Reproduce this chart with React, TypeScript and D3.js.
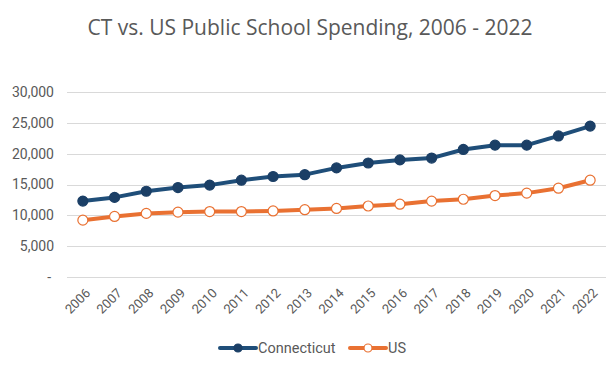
import { useEffect, useRef } from "react";
import * as d3 from "d3";

const years = ["2006", "2007", "2008", "2009", "2010", "2011", "2012", "2013", "2014", "2015", "2016", "2017", "2018", "2019", "2020", "2021", "2022"];
const connecticut = [12300, 12900, 13900, 14500, 14900, 15700, 16300, 16600, 17700, 18500, 19000, 19300, 20700, 21400, 21400, 22900, 24500];
const us = [9200, 9800, 10300, 10500, 10600, 10600, 10700, 10900, 11100, 11500, 11800, 12300, 12600, 13200, 13600, 14400, 15700];
const yTicks = [0, 5000, 10000, 15000, 20000, 25000, 30000];

const App = () => {
  const ref = useRef<HTMLDivElement | null>(null);

  useEffect(() => {
    if (!ref.current) return;
    const width = 614;
    const height = 366;
    const left = 67;
    const right = 606;
    const top = 92.3;
    const bottom = 276.7;
    const font = "Roboto, 'Liberation Sans', sans-serif";
    const textColor = "#595959";

    const svg = d3
      .select(ref.current)
      .append("svg")
      .attr("width", width)
      .attr("height", height)
      .style("display", "block");

    svg.append("rect").attr("width", width).attr("height", height).attr("fill", "#fff");

    svg
      .append("text")
      .attr("x", 310)
      .attr("y", 35)
      .attr("text-anchor", "middle")
      .attr("font-family", "'Open Sans', sans-serif")
      .attr("font-size", 21)
      .attr("fill", textColor)
      .text("CT vs. US Public School Spending, 2006 - 2022");

    const x = d3.scalePoint().domain(years).range([left, right]).padding(0.5);
    const y = d3.scaleLinear().domain([0, 30000]).range([bottom, top]);

    // grid
    svg
      .append("g")
      .selectAll("line")
      .data(yTicks)
      .join("line")
      .attr("x1", left)
      .attr("x2", right)
      .attr("y1", (d) => Math.round(y(d)) + 0.5)
      .attr("y2", (d) => Math.round(y(d)) + 0.5)
      .attr("stroke", "#d9d9d9")
      .attr("stroke-width", 1);

    const fmt = d3.format(",");
    svg
      .append("g")
      .selectAll("text")
      .data(yTicks)
      .join("text")
      .attr("x", (d) => (d === 0 ? 51 : 54))
      .attr("y", (d) => y(d))
      .attr("dy", "0.35em")
      .attr("text-anchor", "end")
      .attr("font-family", font)
      .attr("font-size", 14)
      .attr("fill", textColor)
      .text((d) => (d === 0 ? "-" : fmt(d)));

    svg
      .append("g")
      .selectAll("text")
      .data(years)
      .join("text")
      .attr("transform", (d) => `translate(${(x(d) as number) + 5},${bottom + 14}) rotate(-45)`)
      .attr("text-anchor", "end")
      .attr("dy", "0.35em")
      .attr("font-family", font)
      .attr("font-size", 13)
      .attr("fill", textColor)
      .text((d) => d);

    const line = d3
      .line<number>()
      .x((_, i) => x(years[i]) as number)
      .y((d) => y(d));

    const series = [
      { name: "Connecticut", values: connecticut, color: "#1F4E79", marker: "#1B3F66", fill: "#1B3F66" },
      { name: "US", values: us, color: "#E97132", marker: "#E97132", fill: "#fff" },
    ];

    series.forEach((s) => {
      svg
        .append("path")
        .datum(s.values)
        .attr("d", line)
        .attr("fill", "none")
        .attr("stroke", s.color)
        .attr("stroke-width", 4)
        .attr("stroke-linejoin", "round");
      svg
        .append("g")
        .selectAll("circle")
        .data(s.values)
        .join("circle")
        .attr("cx", (_, i) => x(years[i]) as number)
        .attr("cy", (d) => y(d))
        .attr("r", 5)
        .attr("fill", s.fill)
        .attr("stroke", s.marker)
        .attr("stroke-width", 1.2);
    });

    // legend
    const legendY = 348;
    const items = [
      { ...series[0], x0: 220 },
      { ...series[1], x0: 350 },
    ];
    items.forEach((s) => {
      const g = svg.append("g");
      g.append("line")
        .attr("x1", s.x0)
        .attr("x2", s.x0 + 36)
        .attr("y1", legendY)
        .attr("y2", legendY)
        .attr("stroke", s.color)
        .attr("stroke-width", 4)
        .attr("stroke-linecap", "round");
      g.append("circle")
        .attr("cx", s.x0 + 18)
        .attr("cy", legendY)
        .attr("r", 4)
        .attr("fill", s.fill)
        .attr("stroke", s.marker)
        .attr("stroke-width", 1.2);
      g.append("text")
        .attr("x", s.x0 + 38)
        .attr("y", legendY)
        .attr("dy", "0.35em")
        .attr("font-family", font)
        .attr("font-size", 14.5)
        .attr("fill", textColor)
        .text(s.name);
    });
  }, []);

  return <div ref={ref} style={{ margin: -8 }}></div>;
};

export default App;
